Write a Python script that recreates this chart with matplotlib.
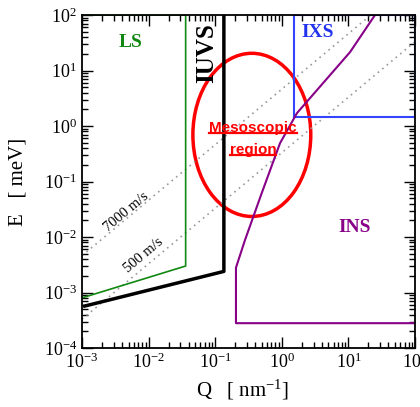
import numpy as np
import matplotlib
matplotlib.use("Agg")
import matplotlib.pyplot as plt
from matplotlib.patches import Ellipse
from matplotlib.lines import Line2D
from matplotlib.ticker import LogLocator, LogFormatterMathtext, NullFormatter

plt.rcParams['font.family'] = 'Liberation Serif'
plt.rcParams['mathtext.fontset'] = 'custom'
plt.rcParams['mathtext.rm'] = 'Liberation Serif'
plt.rcParams['mathtext.it'] = 'Liberation Serif:italic'
plt.rcParams['mathtext.bf'] = 'Liberation Serif:bold'

# Regiones (Q en nm^-1, E en meV)
ls_q = [1e-3, 0.036, 0.036, 1e-3]
ls_e = [8e-4, 3e-3, 100, 100]

iuvs_q = [1.1e-3, 0.135, 0.135]
iuvs_e = [5.7e-4, 2.4e-3, 100]

ixs_q = [1.5, 100, 100, 1.5, 1.5]
ixs_e = [1.45, 1.45, 100, 100, 1.45]

ins_q = [100, 0.205, 0.205, 0.28, 0.5, 0.94, 1.69, 10.6, 25.1]
ins_e = [2.8e-4, 2.8e-4, 2.8e-3, 8.8e-3, 0.062, 0.49, 1.71, 21.5, 100]

# lineas de velocidad del sonido
v7000_q = [1e-3, 21.7]
v7000_e = [4.6e-3, 100]
v500_q = [1e-3, 100]
v500_e = [3.3e-4, 33]

fig = plt.figure(figsize=(4.2, 4.07), dpi=100)
ax = fig.add_axes([82/420, 59/407, 333/420, 333/407])

ax.set_xscale('log')
ax.set_yscale('log')
ax.set_xlim(1e-3, 1e2)
ax.set_ylim(1e-4, 1e2)

dots = (0, (1, 2.5))
ax.plot(v7000_q, v7000_e, color='#999999', ls=dots, lw=1.2)
ax.plot(v500_q, v500_e, color='#999999', ls=dots, lw=1.2)

ax.plot(ls_q, ls_e, color='#118811', lw=1.2)
ax.plot(iuvs_q, iuvs_e, color='black', lw=2.5)
ax.plot(ixs_q, ixs_e, color='#3344ff', lw=1.5)
ax.plot(ins_q, ins_e, color='#880088', lw=1.5)

ell = Ellipse((0.51, 0.64), 0.354, 0.49, transform=ax.transAxes,
              fill=False, edgecolor='red', lw=2.5)
ax.add_patch(ell)

ax.text(5.3e-3, 32.6, 'LS', color='#118811', fontsize=14, fontweight='bold',
        ha='center', va='center')
ax.text(3.5, 47.4, 'IXS', color='#2233ee', fontsize=14, fontweight='bold',
        ha='center', va='center')
ax.text(12.6, 0.015, 'INS', color='#880088', fontsize=14, fontweight='bold',
        ha='center', va='center')
ax.text(0.075, 20.6, 'IUVS', color='black', fontsize=18, fontweight='bold',
        ha='center', va='center', rotation=90)

ax.text(4.7e-3, 0.028, '7000 m/s', fontsize=10.5, rotation=40,
        rotation_mode='anchor', ha='center', va='center')
ax.text(8.5e-3, 4.7e-3, '500 m/s', fontsize=10.5, rotation=40,
        rotation_mode='anchor', ha='center', va='center')

t1 = ax.text(0.37, 0.92, 'Mesoscopic', color='red', fontsize=11,
             fontweight='bold', family='Liberation Sans', ha='center', va='center')
t2 = ax.text(0.37, 0.37, 'region', color='red', fontsize=11,
             fontweight='bold', family='Liberation Sans', ha='center', va='center')

ax.xaxis.set_major_locator(LogLocator(base=10, numticks=20))
ax.yaxis.set_major_locator(LogLocator(base=10, numticks=20))
ax.xaxis.set_minor_locator(LogLocator(base=10, subs=np.arange(2, 10), numticks=20))
ax.yaxis.set_minor_locator(LogLocator(base=10, subs=np.arange(2, 10), numticks=20))
ax.xaxis.set_major_formatter(LogFormatterMathtext())
ax.yaxis.set_major_formatter(LogFormatterMathtext())
ax.xaxis.set_minor_formatter(NullFormatter())
ax.yaxis.set_minor_formatter(NullFormatter())
ax.tick_params(which='both', direction='in', top=True, right=True, labelsize=13)
ax.tick_params(which='major', length=8, width=1)
ax.tick_params(which='minor', length=4.5, width=1)
for s in ax.spines.values():
    s.set_linewidth(1.3)

ax.set_xlabel('Q   [ nm$^{-1}$]', fontsize=15)
ax.xaxis.label.set_x(0.483)
ax.set_ylabel('E   [ meV]', fontsize=15, labelpad=12)

# subrayado del texto rojo
fig.canvas.draw()
r = fig.canvas.get_renderer()
for t in (t1, t2):
    bb = t.get_window_extent(r)
    y = bb.y0 + 2
    fig.add_artist(Line2D([bb.x0, bb.x1], [y, y], color='red', lw=1.6,
                          transform=None))

fig.savefig('out.png', dpi=100)
